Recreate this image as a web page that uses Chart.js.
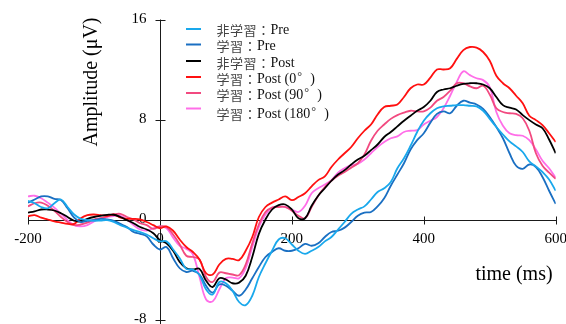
<!DOCTYPE html>
<html>
<head>
<meta charset="utf-8">
<script src="https://cdn.jsdelivr.net/npm/chart.js@4/dist/chart.umd.min.js"></script>
<style>
  html, body { margin: 0; padding: 0; background: #fff; }
  #wrap { width: 566px; height: 324px; position: relative; }
</style>
</head>
<body>
<div id="wrap"><canvas id="erp" width="566" height="324"></canvas></div>
<script>
// Sample times (ms) of the averaged waveforms
const times = [
  -200, -190, -180, -170, -160, -150, -140, -130, -120, -110,
  -100, -90, -80, -70, -60, -50, -40, -30, -20, -10,
  0, 10, 20, 30, 40, 50, 60, 70, 80, 90,
  100, 110, 120, 130, 140, 150, 160, 170, 180, 190,
  200, 210, 220, 230, 240, 250, 260, 270, 280, 290,
  300, 310, 320, 330, 340, 350, 360, 370, 380, 390,
  400, 410, 420, 430, 440, 450, 460, 470, 480, 490,
  500, 510, 520, 530, 540, 550, 560, 570, 580, 590,
  600
];

// Amplitudes (µV) per condition
const nonLearnPre = [
  1.5, 1.3, 1.0, 0.9, 1.3, 1.6, 1.0, 0.4, 0.05, -0.05,
  -0.1, -0.08, -0.05, -0.2, -0.45, -0.65, -0.85, -1.0, -1.2, -1.5,
  -1.75, -1.75, -2.4, -3.1, -3.95, -4.0, -4.45, -5.6, -6.0, -5.0,
  -5.1, -5.7, -6.6, -6.85, -6.1, -4.6, -3.5, -2.5, -1.6, -1.5,
  -2.0, -2.5, -2.75, -2.5, -2.2, -1.75, -1.4, -0.8, -0.2, 0.45,
  0.8, 1.05, 1.6, 2.2, 2.5, 3.0, 4.1, 4.9, 5.9, 7.0,
  7.9, 8.5, 8.9, 9.05, 9.1, 9.15, 9.15, 9.1, 9.05, 8.7,
  8.05, 7.4, 6.8, 6.25, 5.85, 5.4, 4.65, 4.25, 3.8, 3.2,
  2.3
];
const learnPre = [
  1.35, 1.6, 1.85, 1.85, 1.65, 1.55, 0.9, 0.15, -0.2, -0.1,
  -0.05, 0.05, 0.0, -0.1, -0.35, -0.6, -1.0, -1.15, -1.35, -2.0,
  -2.4, -2.2, -3.1, -3.9, -4.2, -4.1, -4.4, -5.3, -5.85, -5.2,
  -5.3, -5.7, -6.1, -5.6, -4.7, -3.8, -3.0, -2.6, -2.3, -2.5,
  -2.5, -2.3, -1.95, -2.1, -1.9, -1.4, -1.0, -0.9, -0.65, -0.2,
  0.3, 0.55, 0.6, 1.05, 1.7, 2.7, 3.6, 4.5, 5.6, 6.35,
  6.9, 7.75, 8.45, 8.65, 8.5, 9.1, 9.5, 9.35, 9.2, 8.85,
  8.2, 7.4, 6.5, 5.3, 4.3, 4.05, 4.4, 4.2, 3.4, 2.3,
  1.25
];
const nonLearnPost = [
  0.55, 0.65, 0.8, 0.8, 0.72, 0.5, 0.2, -0.1, -0.15, 0.05,
  0.2, 0.3, 0.37, 0.38, 0.2, -0.05, -0.3, -0.6, -0.8, -1.1,
  -1.65, -1.9, -2.5, -3.4, -3.9, -4.0, -3.95, -4.9, -5.4, -4.7,
  -4.8, -5.1, -5.05, -4.5, -3.0, -1.15, 0.0, 0.8, 1.15, 1.2,
  0.8, 0.1, 0.1, 1.1, 1.9, 2.5, 3.1, 3.6, 3.95, 4.4,
  4.8, 5.1, 5.55, 6.0, 6.6, 7.0, 7.45, 7.9, 8.3, 8.7,
  9.0, 9.5, 10.2, 10.4, 10.5, 10.7, 10.85, 10.9, 10.9, 10.8,
  10.5, 9.8, 9.15, 8.95, 8.8, 8.35, 7.95, 7.6, 7.3, 6.4,
  5.3
];
const learnPost0 = [
  0.25, 0.35, 0.15, 0.0, -0.15, -0.25, -0.35, -0.35, 0.1, 0.35,
  0.4, 0.35, 0.3, 0.4, 0.15, 0.05, 0.05, 0.0, -0.2, -0.45,
  -0.7, -0.55, -0.9, -1.6, -2.2, -2.6, -3.2, -4.3, -4.4, -3.6,
  -3.15, -3.15, -3.25, -2.5, -1.4, 0.2, 1.0, 1.35, 1.6, 1.85,
  1.55, 1.8, 2.1, 2.65, 3.15, 3.45, 4.2, 4.8, 5.3, 5.8,
  6.5, 7.1, 7.6, 8.4, 9.0, 9.1, 9.2, 9.8, 10.5, 10.8,
  10.8, 11.35, 12.0, 12.0, 12.1, 12.85, 13.55, 13.8, 13.75, 13.4,
  12.7, 11.5, 10.9, 10.5, 9.9, 9.3, 8.3, 7.95, 7.55, 6.9,
  6.2
];
const learnPost90 = [
  1.05, 1.3, 1.35, 1.1, 0.7, 0.2, -0.2, -0.45, -0.4, -0.25,
  0.0, 0.1, 0.25, 0.4, 0.45, 0.2, 0.0, -0.3, -0.45, -0.75,
  -0.55, -0.6, -1.2, -2.0, -2.9, -3.0, -3.2, -4.6, -5.0, -4.25,
  -4.3, -4.4, -4.45, -3.6, -1.9, -0.4, 0.6, 0.95, 1.0, 1.0,
  0.7, 0.3, 0.1, 1.0, 1.9, 2.6, 3.1, 3.5, 3.8, 4.15,
  4.5, 5.2, 6.3, 7.1, 7.6, 8.05, 8.35, 8.55, 8.7, 8.65,
  8.65, 8.95, 9.5, 9.8, 10.3, 10.9, 10.9, 10.65, 10.5, 10.7,
  10.0, 8.9, 8.6, 8.5, 8.45, 8.1, 7.1, 5.3, 4.3, 3.75,
  3.25
];
const learnPost180 = [
  1.85, 1.9, 1.7, 1.35, 0.95, 0.45, -0.05, -0.45, -0.55, -0.45,
  -0.15, 0.1, 0.2, 0.28, 0.3, 0.0, -0.45, -0.8, -0.88, -0.7,
  -0.55, -0.7, -1.45, -2.1, -2.35, -2.8, -4.6, -6.4, -6.55, -5.6,
  -4.7, -4.65, -4.7, -3.9, -2.2, -0.6, 0.4, 0.95, 1.05, 1.0,
  0.8, 0.6, 1.1, 2.1, 2.5, 2.8, 3.15, 3.75, 4.1, 4.35,
  4.45, 4.8, 5.3, 5.8, 6.2, 6.5, 6.65, 7.0, 7.1, 7.15,
  7.6, 7.9, 8.2, 8.9, 9.9, 11.0, 11.85, 11.55, 11.3, 11.15,
  10.6, 8.6, 7.5, 6.9, 6.75, 6.7, 6.35, 5.6, 4.7, 4.1,
  3.35
];

const seriesNames = ['非学習：Pre', '学習：Pre', '非学習：Post', '学習：Post (0°)', '学習：Post (90°)', '学習：Post (180°)'];
const seriesValues = [nonLearnPre, learnPre, nonLearnPost, learnPost0, learnPost90, learnPost180];
const seriesColors = ['#19a8ec', '#1a6fc2', '#000000', '#ff1010', '#f24a80', '#ff6ee8'];

// Axis ticks
const xTicks = [-200, 0, 200, 400, 600];
const yTicks = [-8, 0, 8, 16];

const SERIF = "'Liberation Serif', 'Times New Roman', serif";
const CJK = "'Noto Sans CJK JP', 'Noto Sans CJK SC', sans-serif";

// Axes crossing at the origin, with ticks that straddle the axis line
const originAxes = {
  id: 'originAxes',
  beforeDatasetsDraw(chart) {
    const { ctx, scales: { x, y } } = chart;
    const ox = Math.round(x.getPixelForValue(0)) + 0.5;
    const oy = Math.round(y.getPixelForValue(0)) + 0.5;
    ctx.save();
    ctx.strokeStyle = '#1a1a1a';
    ctx.lineWidth = 1;
    ctx.beginPath();
    ctx.moveTo(x.getPixelForValue(xTicks[0]), oy);
    ctx.lineTo(x.getPixelForValue(xTicks[xTicks.length - 1]) + 0.5, oy);
    ctx.moveTo(ox, y.getPixelForValue(yTicks[yTicks.length - 1]));
    ctx.lineTo(ox, chart.height);
    xTicks.forEach(t => {
      if (t === 0) return;
      const px = Math.round(x.getPixelForValue(t)) + 0.5;
      ctx.moveTo(px, oy - 4);
      ctx.lineTo(px, oy + 4);
    });
    yTicks.forEach(t => {
      if (t === 0) return;
      const py = Math.round(y.getPixelForValue(t)) + 0.5;
      ctx.moveTo(ox - 5, py);
      ctx.lineTo(ox + 5, py);
    });
    ctx.stroke();

    ctx.fillStyle = '#000';
    ctx.font = '15px ' + SERIF;
    ctx.textAlign = 'center';
    ctx.textBaseline = 'middle';
    xTicks.forEach(t => ctx.fillText(String(t), x.getPixelForValue(t), oy + 19));
    ctx.textAlign = 'right';
    yTicks.forEach(t => ctx.fillText(String(t), ox - 14, y.getPixelForValue(t)));
    ctx.restore();
  },
  afterDraw(chart) {
    const { ctx } = chart;
    ctx.save();
    ctx.fillStyle = '#000';
    ctx.font = '20px ' + SERIF;
    ctx.textAlign = 'center';
    ctx.textBaseline = 'middle';
    ctx.fillText('time (ms)', 514, 275);
    ctx.translate(92, 82);
    ctx.rotate(-Math.PI / 2);
    ctx.fillText('Amplitude (μV)', 0, 0);
    ctx.restore();

    // legend
    const lineY = [29, 44.5, 61, 77, 93, 108.5];
    const textY = [30, 46.5, 63, 79.5, 95.5, 114.5];
    ctx.save();
    ctx.textBaseline = 'middle';
    ctx.textAlign = 'left';
    chart.data.datasets.forEach((ds, i) => {
      ctx.strokeStyle = ds.borderColor;
      ctx.lineWidth = 2;
      ctx.beginPath();
      ctx.moveTo(186, lineY[i]);
      ctx.lineTo(201, lineY[i]);
      ctx.stroke();
      let cx = 216.5;
      for (const ch of ds.label) {
        const wide = /[\u3000-\u9fff\uff00-\uffef]/.test(ch);
        if (ch === '°') {
          ctx.font = '12px ' + SERIF;
          ctx.fillStyle = '#333';
          ctx.fillText(ch, cx + 1, textY[i] - 3);
          cx += 14;
        } else if (wide) {
          ctx.font = '13px ' + CJK;
          ctx.fillStyle = '#444';
          ctx.fillText(ch, cx, textY[i]);
          cx += 13.5;
        } else {
          ctx.font = '14px ' + SERIF;
          ctx.fillStyle = '#111';
          ctx.fillText(ch, cx, textY[i]);
          cx += ctx.measureText(ch).width;
        }
      }
    });
    ctx.restore();
  }
};

new Chart(document.getElementById('erp'), {
  type: 'line',
  data: {
    datasets: seriesNames.map((name, i) => ({
      label: name,
      data: times.map((t, k) => ({ x: t, y: seriesValues[i][k] })),
      borderColor: seriesColors[i],
      borderWidth: 1.8,
      pointRadius: 0,
      tension: 0.4,
      fill: false
    }))
  },
  options: {
    responsive: false,
    animation: false,
    devicePixelRatio: 1,
    layout: { padding: { left: 28, right: 10.3, top: 19.5, bottom: 4.5 } },
    plugins: { legend: { display: false }, tooltip: { enabled: false } },
    scales: {
      x: { type: 'linear', min: -200, max: 600, display: false },
      y: { type: 'linear', min: -8, max: 16, display: false }
    }
  },
  plugins: [originAxes]
});
</script>
</body>
</html>
